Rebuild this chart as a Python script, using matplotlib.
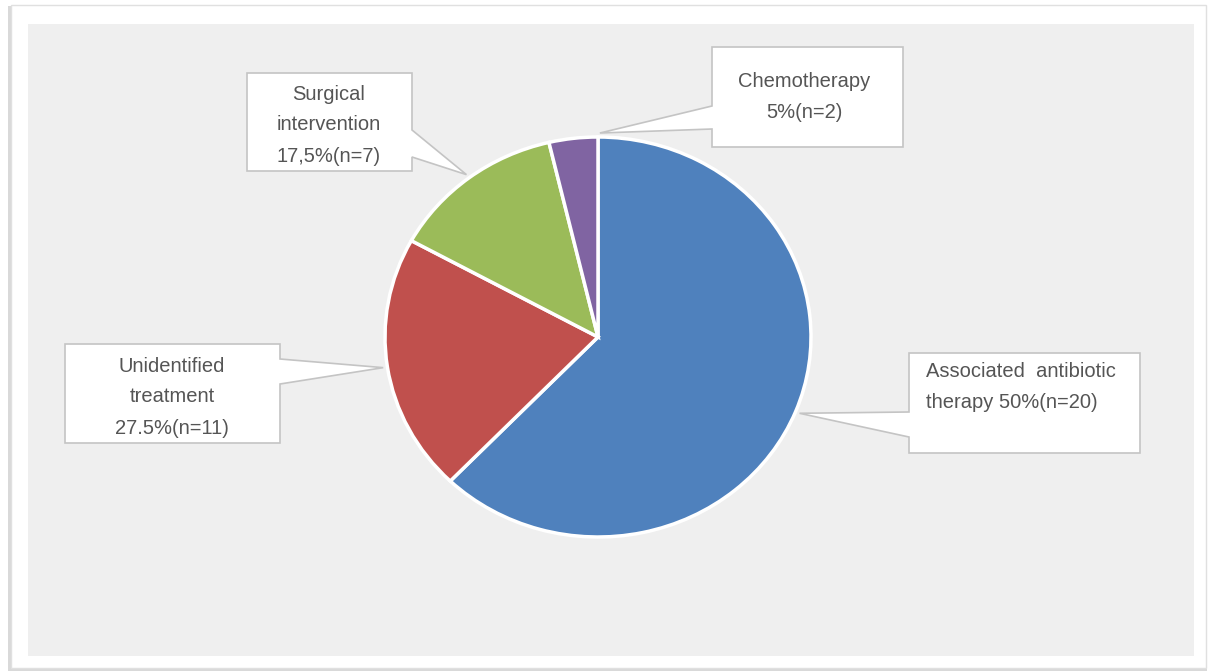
import numpy as np
import matplotlib
matplotlib.use('Agg')
import matplotlib.pyplot as plt
from matplotlib.patches import Rectangle, Polygon

# data
categories = ['Associated antibiotic therapy', 'Unidentified treatment',
              'Surgical intervention', 'Chemotherapy']
percents = ['50%', '27.5%', '17,5%', '5%']
counts = [20, 11, 7, 2]
# slice shares as drawn in the picture (they do not follow the labels)
slice_sizes = [62.2, 20.8, 13.3, 3.7]
colors = ['#4F81BD', '#C0504D', '#9BBB59', '#8064A2']
label_texts = [
    'Associated  antibiotic\ntherapy 50%(n=20)',
    'Unidentified\ntreatment\n27.5%(n=11)',
    'Surgical\nintervention\n17,5%(n=7)',
    'Chemotherapy\n5%(n=2)',
]

W, H = 1211, 672
fig = plt.figure(figsize=(W / 100, H / 100), dpi=100)
fig.patch.set_facecolor('white')

bg = fig.add_axes([0, 0, 1, 1])
bg.set_xlim(0, W)
bg.set_ylim(H, 0)
bg.axis('off')

# card with soft shadow, then grey plot panel
bg.add_patch(Rectangle((8, 6), 1199, 665, fc='#d9d9d9', ec='none'))
bg.add_patch(Rectangle((11, 5), 1195, 663, fc='white', ec='#e0e0e0', lw=1.0))
bg.add_patch(Rectangle((28, 24), 1166, 632, fc='#efefef', ec='none'))

# pie (slightly wider than tall, like the source)
cx, cy, rx, ry = 598, 337, 213, 200
pad = 1.05
ax = fig.add_axes([(cx - rx * pad) / W, 1 - (cy + ry * pad) / H,
                   2 * rx * pad / W, 2 * ry * pad / H])
wedges, _ = ax.pie(slice_sizes, colors=colors, startangle=90, counterclock=False,
                   wedgeprops=dict(edgecolor='white', linewidth=2.5))
ax.set_aspect('auto')
ax.set_xlim(-pad, pad)
ax.set_ylim(-pad, pad)
ax.axis('off')

tip_angles = [(w.theta1 + w.theta2) / 2 for w in wedges]
tip_angles[3] = wedges[3].theta1 - 0.5   # chemo pointer sits on the purple/blue edge


def tip_px(angle, r=1.02):
    a = np.deg2rad(angle)
    return cx + rx * r * np.cos(a), cy - ry * r * np.sin(a)


def callout(box, side, ya, yb, tip):
    x0, y0, x1, y1 = box
    if side == 'right':
        pts = [(x0, y0), (x1, y0), (x1, ya), tip, (x1, yb), (x1, y1), (x0, y1)]
    else:
        pts = [(x0, y0), (x1, y0), (x1, y1), (x0, y1), (x0, yb), tip, (x0, ya)]
    bg.add_patch(Polygon(pts, closed=True, fc='white', ec='#c4c4c4', lw=1.2,
                         joinstyle='miter'))


boxes = [(909, 353, 1140, 453), (65, 344, 280, 443),
         (247, 73, 412, 171), (712, 47, 903, 147)]
sides = ['left', 'right', 'right', 'left']
attach = [(412, 437), (359, 384), (130, 157), (106, 129)]

for i in range(len(categories)):
    callout(boxes[i], sides[i], attach[i][0], attach[i][1], tip_px(tip_angles[i]))

font = dict(family=['Liberation Sans', 'DejaVu Sans'], fontsize=14.5,
            color='#555555', linespacing=1.8)
bg.text(926, 362, label_texts[0], ha='left', va='top', **font)
bg.text(172, 397, label_texts[1], ha='center', va='center', multialignment='center', **font)
bg.text(329, 125, label_texts[2], ha='center', va='center', multialignment='center', **font)
bg.text(804, 97, label_texts[3], ha='center', va='center', multialignment='center', **font)

fig.savefig('out.png', dpi=100)
